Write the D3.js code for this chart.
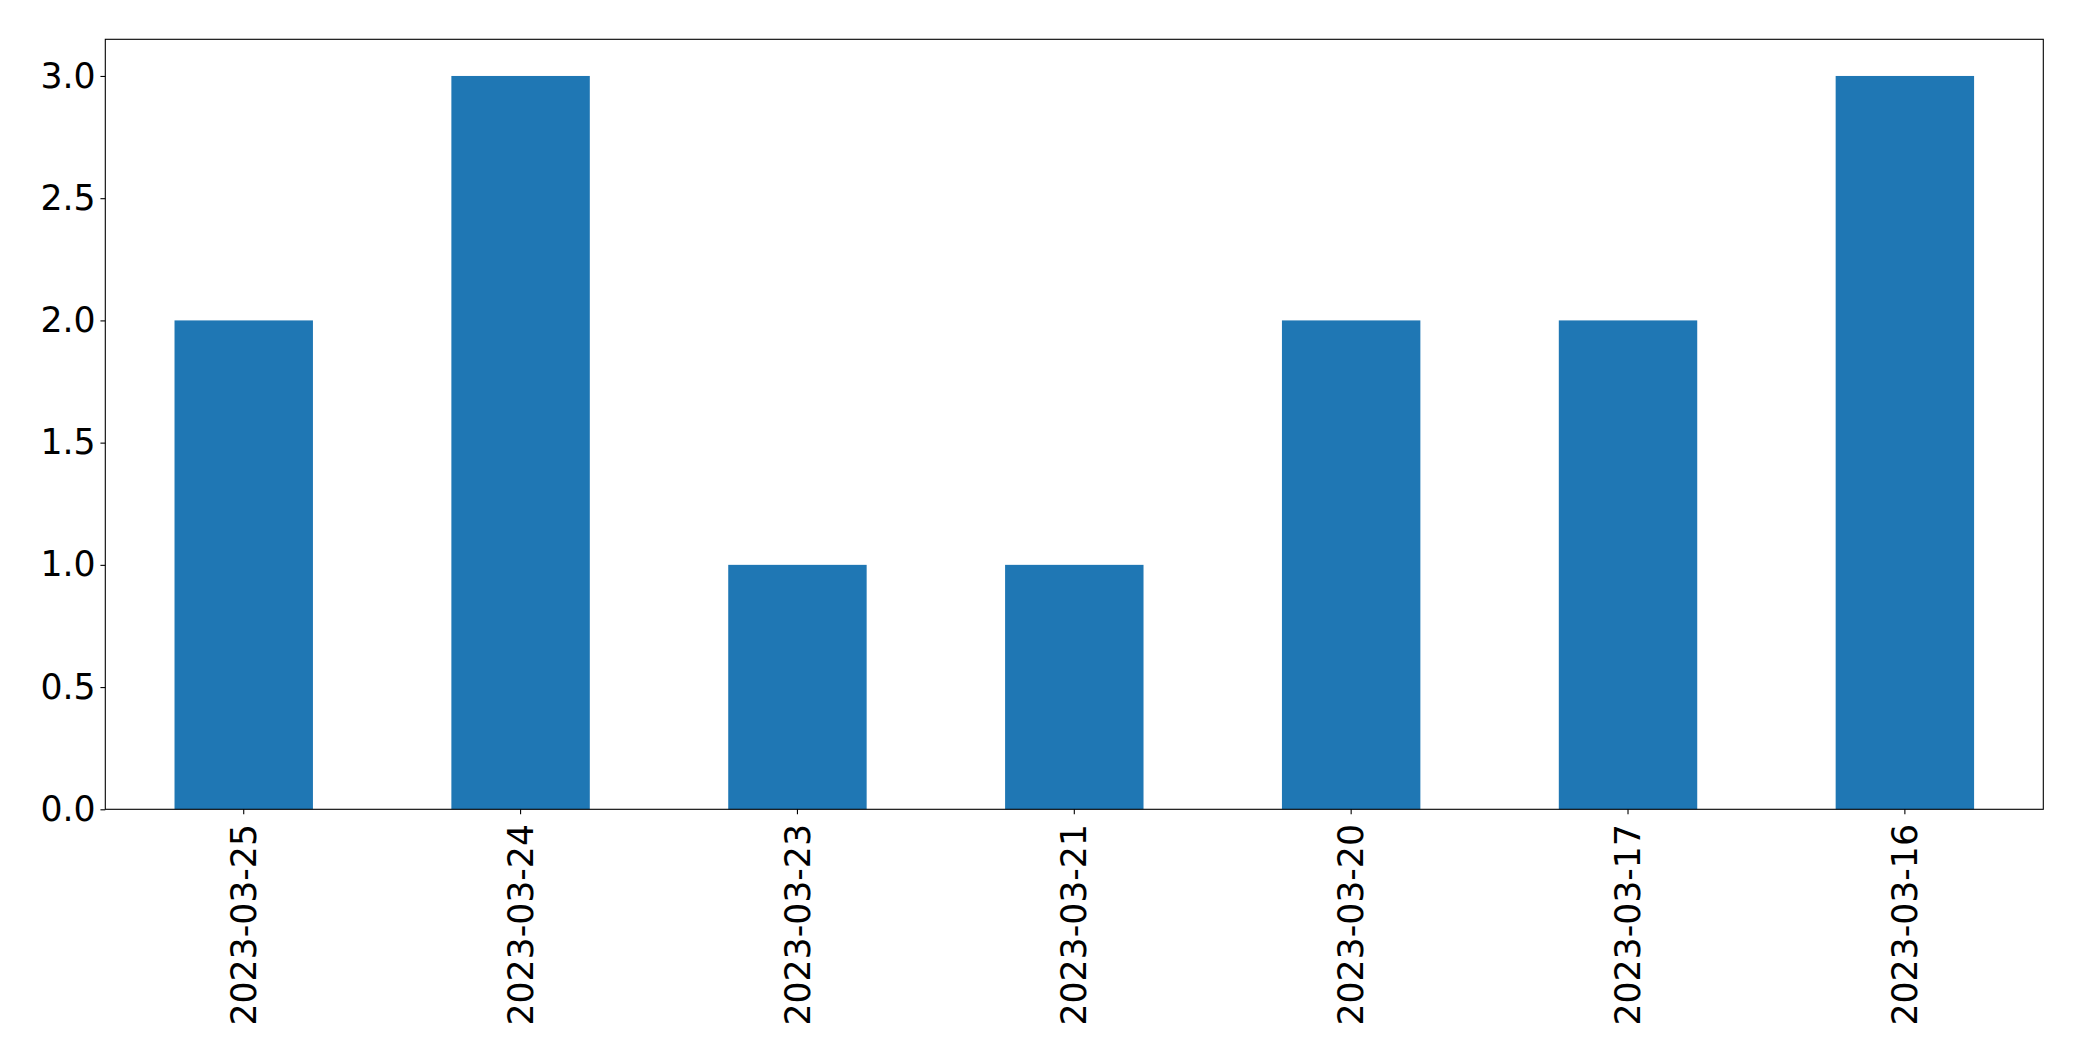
<!DOCTYPE html>
<html>
<head>
<meta charset="utf-8">
<script src="https://cdn.jsdelivr.net/npm/d3@7"></script>
<style>
  html, body { margin: 0; padding: 0; background: #fff; }
  svg { display: block; }
  text { font-family: "DejaVu Sans", sans-serif; }
</style>
</head>
<body>
<svg id="chart" width="2082" height="1061"></svg>
<script>
const categories = ["2023-03-25", "2023-03-24", "2023-03-23", "2023-03-21", "2023-03-20", "2023-03-17", "2023-03-16"];
const values = [2, 3, 1, 1, 2, 2, 3];
const yTicks = [0, 0.5, 1.0, 1.5, 2.0, 2.5, 3.0];

const W = 2082, H = 1061;
const margin = { left: 105.3, right: 2082 - 2043.3, top: 39.3, bottom: 1061 - 809.3 };
const svg = d3.select("#chart");
const g = svg.append("g");

const x = d3.scaleBand()
  .domain(categories)
  .range([margin.left, W - margin.right])
  .paddingInner(0.5).paddingOuter(0.25);

const yMax = d3.max(values) * 1.05;
const y = d3.scaleLinear().domain([0, yMax]).range([H - margin.bottom, margin.top]);

g.selectAll("rect.bar")
  .data(values)
  .join("rect")
  .attr("class", "bar")
  .attr("x", (d, i) => x(categories[i]))
  .attr("width", x.bandwidth())
  .attr("y", d => y(d))
  .attr("height", d => y(0) - y(d))
  .attr("fill", "#1f77b4");

const tickLen = 4.86, pad = 4.86;
const fs = "34.7px";

// Y axis
const yAxis = g.append("g")
  .attr("transform", `translate(${margin.left},0)`)
  .call(d3.axisLeft(y).tickValues(yTicks).tickFormat(d3.format(".1f")).tickSize(tickLen).tickPadding(pad));
yAxis.select(".domain").remove();
yAxis.selectAll("line").attr("stroke", "#000").attr("stroke-width", 1.1);
yAxis.selectAll("text").attr("font-size", fs).attr("fill", "#000").attr("font-family", "DejaVu Sans");

// X axis
const xAxis = g.append("g")
  .attr("transform", `translate(0,${H - margin.bottom})`)
  .call(d3.axisBottom(x).tickSize(tickLen).tickPadding(pad));
xAxis.select(".domain").remove();
xAxis.selectAll("line").attr("stroke", "#000").attr("stroke-width", 1.1);
xAxis.selectAll("text")
  .attr("font-size", fs).attr("fill", "#000").attr("font-family", "DejaVu Sans")
  .attr("text-anchor", "end")
  .attr("dy", "0.35em")
  .attr("x", 0)
  .attr("y", 0)
  .attr("transform", `translate(0,${tickLen + pad + 5}) rotate(-90)`);

// Frame
g.append("rect")
  .attr("x", margin.left).attr("y", margin.top)
  .attr("width", W - margin.right - margin.left)
  .attr("height", H - margin.bottom - margin.top)
  .attr("fill", "none").attr("stroke", "#000").attr("stroke-width", 1.1);
</script>
</body>
</html>
